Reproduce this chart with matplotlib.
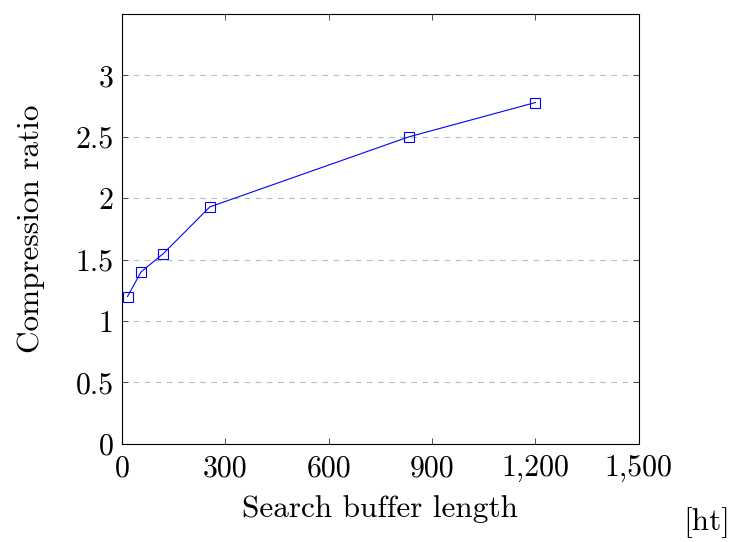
import matplotlib
matplotlib.use('Agg')
import matplotlib.pyplot as plt
from matplotlib.ticker import FuncFormatter

# Data
buffer_len = [16, 55, 120, 255, 832, 1200]
ratio = [1.2, 1.4, 1.55, 1.93, 2.5, 2.78]
x_ticks = [0, 300, 600, 900, 1200, 1500]
y_ticks = [0, 0.5, 1, 1.5, 2, 2.5, 3]

plt.rcParams['font.family'] = 'serif'
plt.rcParams['font.serif'] = ['cmr10', 'DejaVu Serif']
plt.rcParams['mathtext.fontset'] = 'cm'
plt.rcParams['axes.formatter.use_mathtext'] = True

fig = plt.figure(figsize=(7.32, 5.42), dpi=100)
ax = fig.add_axes([0.1667, 0.181, 0.706, 0.793])

ax.plot(buffer_len, ratio, color='#0000ff', linewidth=0.8, marker='s',
        markersize=7, markerfacecolor='none', markeredgecolor='#0000ff',
        markeredgewidth=0.8)

ax.set_xlim(0, 1500)
ax.set_ylim(0, 3.5)
ax.set_xticks(x_ticks)
ax.set_yticks(y_ticks)
ax.xaxis.set_major_formatter(FuncFormatter(lambda v, p: f'{int(v):,}'))
ax.yaxis.set_major_formatter(FuncFormatter(lambda v, p: f'{v:g}'))

ax.grid(axis='y', linestyle=(0, (5, 5)), color='#bbbbbb', linewidth=0.8)
ax.set_axisbelow(True)
ax.tick_params(direction='in', top=True, right=True, length=4.5, width=0.6,
               labelsize=21.5, colors='#333333', labelcolor='black')
ax.tick_params(axis='y', pad=6)
ax.tick_params(axis='x', pad=8)
for s in ax.spines.values():
    s.set_linewidth(0.8)

ax.set_xlabel('Search buffer length', fontsize=22.5, labelpad=9)
ax.set_ylabel('Compression ratio', fontsize=22.5, labelpad=22)

fig.text(0.997, 0.035, '[ht]', fontsize=22.5, ha='right', va='center')

plt.savefig('out.png', dpi=100)
